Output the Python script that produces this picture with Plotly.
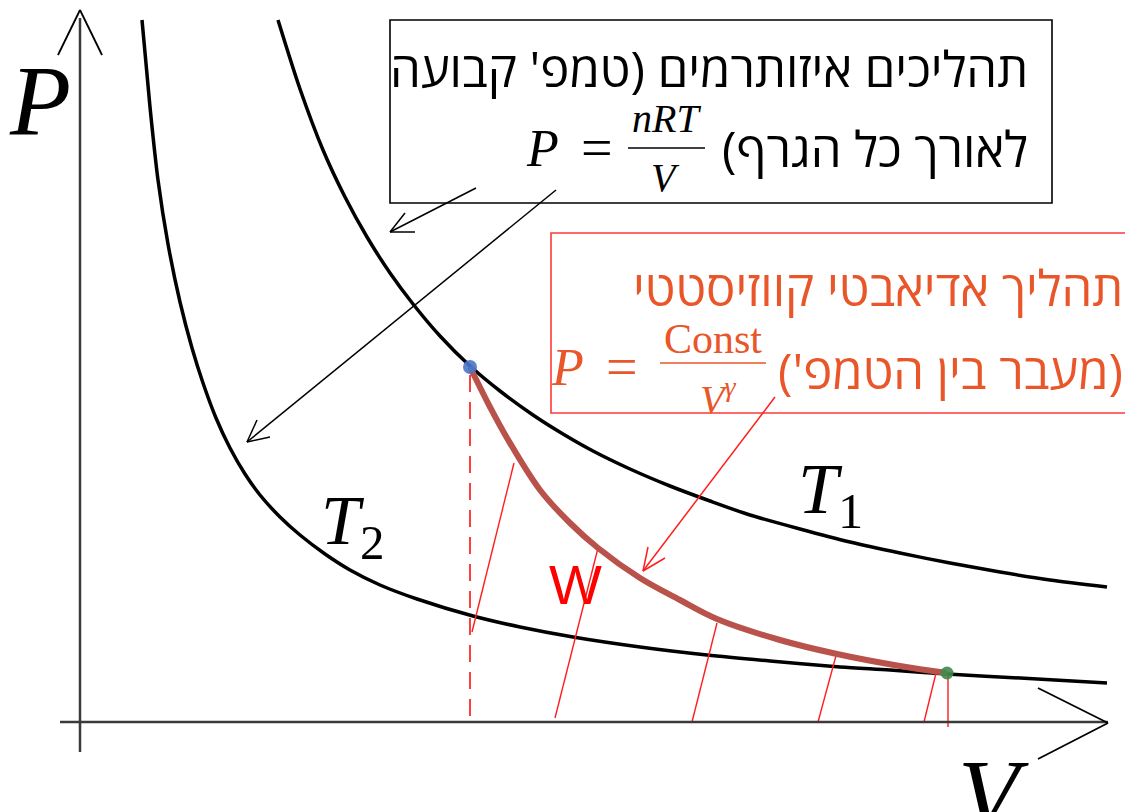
import plotly.graph_objects as go

# isotherms and the adiabat (V, P in arbitrary units)
t1_v = [1.98, 2.20, 2.43, 2.65, 2.87, 3.10, 3.33, 3.60, 3.90, 4.20, 4.53, 4.83, 5.13, 5.50,
        5.90, 6.30, 6.70, 7.20, 7.70, 8.20, 8.70, 9.20, 9.70, 10.27]
t1_p = [7.02, 6.33, 5.72, 5.25, 4.85, 4.49, 4.18, 3.86, 3.56, 3.31, 3.07, 2.88, 2.71, 2.53,
        2.36, 2.21, 2.07, 1.93, 1.80, 1.69, 1.59, 1.50, 1.42, 1.35]

t2_v = [0.62, 0.70, 0.78, 0.88, 1.00, 1.12, 1.23, 1.36, 1.50, 1.65, 1.80, 2.00, 2.20, 2.45,
        2.70, 3.00, 3.37, 3.93, 4.40, 4.93, 5.60, 6.27, 6.90, 7.60, 8.10, 8.67, 9.40, 10.27]
t2_p = [7.02, 6.15, 5.42, 4.78, 4.20, 3.74, 3.39, 3.04, 2.74, 2.48, 2.27, 2.05, 1.87, 1.68,
        1.52, 1.37, 1.23, 1.06, 0.95, 0.85, 0.75, 0.67, 0.61, 0.55, 0.52, 0.48, 0.44, 0.39]

adia_v = [3.90, 4.10, 4.27, 4.60, 4.90, 5.18, 5.60, 6.00, 6.37, 7.00, 7.57, 8.20, 8.67]
adia_p = [3.55, 3.15, 2.84, 2.32, 1.99, 1.74, 1.44, 1.22, 1.03, 0.82, 0.68, 0.56, 0.49]

# hatching under the adiabat (work area)
hatch_v0 = [3.92, 4.75, 6.12, 7.38, 8.44, 8.68]
hatch_p0 = [0.90, 0.04, 0.00, 0.00, 0.00, -0.05]
hatch_v1 = [4.34, 5.18, 6.37, 7.57, 8.57, 8.68]
hatch_p1 = [2.59, 1.74, 0.99, 0.70, 0.53, 0.50]

BLACK = "#000000"
AXIS = "#3a3a3a"
BROWN = "#b8524a"
RED = "#ff1e1e"
ORANGE = "#e8562a"
HEB = "Open Sans, Liberation Sans, DejaVu Sans, sans-serif"
SERIF = "Liberation Serif, DejaVu Serif, serif"

fig = go.Figure()

fig.add_trace(go.Scatter(x=t1_v, y=t1_p, mode="lines",
                         line=dict(color=BLACK, width=3.5, shape="spline", smoothing=0.8)))
fig.add_trace(go.Scatter(x=t2_v, y=t2_p, mode="lines",
                         line=dict(color=BLACK, width=3.5, shape="spline", smoothing=0.8)))

hx, hy = [], []
for a, b, c, d in zip(hatch_v0, hatch_p0, hatch_v1, hatch_p1):
    hx += [a, c, None]
    hy += [b, d, None]
fig.add_trace(go.Scatter(x=hx, y=hy, mode="lines", line=dict(color=RED, width=1.4)))

# dashed drop line from the start state
fig.add_trace(go.Scatter(x=[adia_v[0], adia_v[0]], y=[adia_p[0] - 0.08, 0.02], mode="lines",
                         line=dict(color=RED, width=1.7, dash="17px,10px")))

fig.add_trace(go.Scatter(x=adia_v, y=adia_p, mode="lines", line=dict(color=BROWN, width=6, shape="spline")))
fig.add_trace(go.Scatter(x=[adia_v[0]], y=[adia_p[0]], mode="markers",
                         marker=dict(color="#4a76c8", size=14, opacity=0.9)))
fig.add_trace(go.Scatter(x=[adia_v[-1]], y=[adia_p[-1]], mode="markers",
                         marker=dict(color="#3f8a4c", size=13, opacity=0.9)))


def seg(x0, y0, x1, y1, color=BLACK, width=1.5, dash=None):
    line = dict(color=color, width=width)
    if dash:
        line["dash"] = dash
    return dict(type="line", x0=x0, y0=y0, x1=x1, y1=y1, line=line, layer="above")


def arrow(x0, y0, x1, y1, a, b, c, d, color=BLACK, width=1.5):
    # shaft plus an open chevron head at (x1, y1)
    return [seg(x0, y0, x1, y1, color, width),
            seg(x1, y1, a, b, color, width),
            seg(x1, y1, c, d, color, width)]


shapes = [
    # axes with open arrowheads
    seg(0, 7.04, 0, -0.30, AXIS, 2.5),
    seg(-0.20, 0, 10.28, 0, AXIS, 2.5),
    seg(0, 7.12, -0.22, 6.67, BLACK, 1.8),
    seg(0, 7.12, 0.22, 6.67, BLACK, 1.8),
    seg(10.28, -0.01, 9.58, 0.34, BLACK, 1.8),
    seg(10.28, -0.01, 9.58, -0.37, BLACK, 1.8),
    # text boxes
    dict(type="rect", x0=3.10, x1=9.72, y0=5.19, y1=7.02, line=dict(color=BLACK, width=1.6)),
    dict(type="rect", x0=4.71, x1=10.48, y0=3.09, y1=4.89, line=dict(color="#ff3838", width=1.6)),
    # fraction bars
    seg(5.48, 5.74, 6.25, 5.74, BLACK, 1.6),
    seg(5.80, 3.59, 6.86, 3.59, ORANGE, 1.6),
]
shapes += arrow(3.96, 5.34, 3.10, 4.90, 3.25, 5.09, 3.35, 4.90)
shapes += arrow(4.76, 5.32, 1.67, 2.80, 1.77, 3.02, 1.90, 2.85)
shapes += arrow(6.95, 3.25, 5.63, 1.51, 5.68, 1.75, 5.85, 1.64, RED, 1.5)


def txt(x, y, s, size, color=BLACK, family=HEB, xanchor="center"):
    return dict(x=x, y=y, text=s, showarrow=False, xanchor=xanchor, yanchor="middle",
                font=dict(size=size, color=color, family=family))


RLM = "\u200f"
annotations = [
    txt(-0.40, 6.22, "<i>P</i>", 100, family=SERIF),
    txt(9.13, -0.72, "<i>V</i>", 100, family=SERIF),
    txt(7.50, 2.28, "<i>T</i><sub>1</sub>", 72, family=SERIF),
    txt(2.72, 1.96, "<i>T</i><sub>2</sub>", 70, family=SERIF),
    txt(4.95, 1.38, "W", 56, color="#ff0000", family="Liberation Sans, Arial, sans-serif"),
    # black box
    txt(9.50, 6.54, "תהליכים איזותרמים (טמפ' קבועה", 49, xanchor="right"),
    txt(9.50, 5.74, "לאורך כל הגרף)" + RLM, 49, xanchor="right"),
    txt(4.62, 5.74, "<i>P</i>", 52, family=SERIF),
    txt(5.17, 5.74, "=", 56, family=SERIF),
    txt(5.86, 6.04, "<i>nRT</i>", 40, family=SERIF),
    txt(5.85, 5.45, "<i>V</i>", 40, family=SERIF),
    # red box
    txt(10.45, 4.35, "תהליך אדיאבטי קווזיסטטי", 49, color=ORANGE, xanchor="right"),
    txt(10.45, 3.52, RLM + "(מעבר בין הטמפ')" + RLM, 49, color=ORANGE, xanchor="right"),
    txt(4.87, 3.55, "<i>P</i>", 52, color=ORANGE, family=SERIF),
    txt(5.42, 3.55, "=", 56, color=ORANGE, family=SERIF),
    txt(6.33, 3.83, "Const", 42, color=ORANGE, family=SERIF),
    txt(6.38, 3.26, "<i>V</i><sup><i>γ</i></sup>", 40, color=ORANGE, family=SERIF),
]

# ranges shifted by the page's 8px body margin so marks land where the picture has them
fig.update_layout(
    width=1133, height=812,
    margin=dict(l=0, r=0, t=0, b=0),
    paper_bgcolor="white", plot_bgcolor="white",
    showlegend=False,
    xaxis=dict(range=[-0.72, 10.61], visible=False, fixedrange=True),
    yaxis=dict(range=[-0.98, 7.14], visible=False, fixedrange=True),
    shapes=shapes,
    annotations=annotations,
)

fig.write_html("out.html")
